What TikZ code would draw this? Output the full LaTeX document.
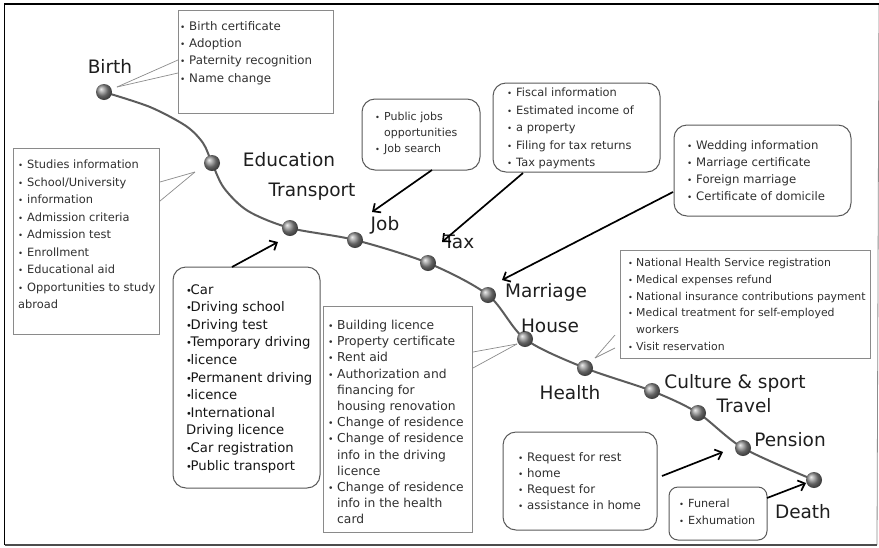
\documentclass[tikz,border=0pt]{standalone}
\usepackage{fontspec}
\setmainfont{DejaVu Sans}
\usepackage{graphicx}
\usetikzlibrary{fit,arrows.meta}

\definecolor{listink}{HTML}{303030}
\definecolor{stageink}{HTML}{1E1E1E}
\definecolor{rectedge}{HTML}{8A8A8A}
\definecolor{roundedge}{HTML}{5A5A5A}
\definecolor{lifecol}{HTML}{5C5C5C}

% font size helper: size / baseline skip (1pt = 1px here)
\newcommand{\fsz}[2]{\fontsize{#1}{#2}\selectfont}
% bullet with fixed width, and matching indent for wrapped lines
\newcommand{\bu}{\makebox[9pt][l]{\scalebox{0.75}{•}}}
\newcommand{\tb}{\makebox[4.5pt][l]{\scalebox{0.75}{•}}}
\newcommand{\ind}{\hspace*{9pt}}
\newcommand{\hb}{\makebox[8pt][l]{\scalebox{0.75}{•}}}

\tikzset{
  rectbox/.style={draw=rectedge, line width=0.9pt, inner sep=0pt},
  roundbox/.style={draw=roundedge, line width=1pt, rounded corners=13pt, inner sep=0pt},
  listtxt/.style={anchor=north west, inner sep=0pt, align=left, text=listink},
  stage/.style={font=\fsz{18.5}{20}, text=stageink, inner sep=0pt},
  ball/.style={circle, minimum size=16pt, inner sep=0pt, shading=ball, ball color=black!45},
  lifeline/.style={draw=lifecol, line width=2pt, line cap=round},
  spoke/.style={draw=black!45, line width=0.7pt},
  pointer/.style={draw=black, line width=1.7pt, -{Straight Barb[length=6pt,width=11pt,line width=1.7pt]}}
}

\begin{document}
\begin{tikzpicture}[x=1pt, y=-1pt]
\useasboundingbox (0,0) rectangle (879,547);
\fill[white] (0,0) rectangle (879,547);

% outer frame
\coordinate (fr-nw) at (4.5,4);
\coordinate (fr-ne) at (879,4);
\coordinate (fr-sw) at (4.5,545);
\coordinate (fr-se) at (877,545);
\draw[black!45, line width=0.8pt] (fr-ne) -- (fr-se);
\draw[black!70, line width=1.6pt] (fr-sw) -- (fr-se);
\draw[black, line width=1.8pt] (fr-sw) -- (fr-nw) -- (fr-ne);

% stations along the life line
\coordinate (p-birth) at (104,92);
\coordinate (p-edu) at (212,163);
\coordinate (p-trans) at (290,228);
\coordinate (p-job) at (355,240);
\coordinate (p-tax) at (428,263);
\coordinate (p-marr) at (488,295);
\coordinate (p-house) at (525,339);
\coordinate (p-health) at (585,368);
\coordinate (p-cult) at (652,391);
\coordinate (p-travel) at (698,413);
\coordinate (p-pension) at (743,448);
\coordinate (p-death) at (814,480);

\draw[lifeline] plot[smooth, tension=0.5] coordinates {
  (p-birth) (150,107) (186,126) (203,143) (p-edu) (224,188) (248,211) (p-trans) (p-job) (p-tax)
  (p-marr) (p-house) (p-health) (p-cult) (p-travel) (p-pension) (p-death)};

\foreach \s in {birth,edu,trans,job,tax,marr,house,health,cult,travel,pension,death}
  \node[ball] (b-\s) at (p-\s) {};

% stage labels
\node[stage] (l-birth) at (110,66) {Birth};
\node[stage] (l-edu) at (289,160) {Education};
\node[stage] (l-trans) at (312,192) {Transport};
\node[stage] (l-job) at (385,225) {Job};
\node[stage] (l-tax) at (459,242) {Tax};
\node[stage] (l-marr) at (546,292) {Marriage};
\node[stage] (l-house) at (550,326) {House};
\node[stage] (l-health) at (570,393) {Health};
\node[stage] (l-cult) at (735,383) {Culture \& sport};
\node[stage] (l-travel) at (744,406) {Travel};
\node[stage] (l-pension) at (790,440) {Pension};
\node[stage] (l-death) at (803,512) {Death};

% Birth
\node[rectbox, fit={(178,10) (333,113)}] (box-birth) {};
\node[listtxt, font=\fsz{11.8}{17.4}] (t-birth) at (180,21) {%
\bu Birth certificate\\ \bu Adoption\\ \bu Paternity recognition\\ \bu Name change};
\coordinate (hub-birth) at (117,87);
\coordinate (e-birth1) at (178,60);
\coordinate (e-birth2) at (178,73);
\draw[spoke] (hub-birth) -- (e-birth1);
\draw[spoke] (hub-birth) -- (e-birth2);

% Education
\node[rectbox, fit={(13,148) (159,334)}] (box-edu) {};
\node[listtxt, font=\fsz{11.4}{17.5}] (t-edu) at (18,160) {%
\bu Studies information\\ \bu School/University\\ \bu information\\
\bu Admission criteria\\ \bu Admission test\\ \bu Enrollment\\
\bu Educational aid\\ \bu Opportunities to study\\ abroad};
\coordinate (hub-edu) at (195,172);
\coordinate (e-edu1) at (160,182);
\coordinate (e-edu2) at (160,201);
\draw[spoke] (hub-edu) -- (e-edu1);
\draw[spoke] (hub-edu) -- (e-edu2);

% Transport
\node[roundbox, fit={(173,267) (320,488)}] (box-trans) {};
\node[listtxt, font=\fsz{13.2}{17.6}, text=black!92] (t-trans) at (186,284) {%
\tb Car\\ \tb Driving school\\ \tb Driving test\\ \tb Temporary driving\\
\tb licence\\ \tb Permanent driving\\ \tb licence\\ \tb International\\
Driving licence\\ \tb Car registration\\ \tb Public transport};
\coordinate (a-trans-s) at (232,267);
\coordinate (a-trans-e) at (278,242);
\draw[pointer] (a-trans-s) -- (a-trans-e);

% Job
\node[roundbox, fit={(362,99) (480,170)}] (box-job) {};
\node[listtxt, font=\fsz{11}{16}] (t-job) at (375,112) {%
\bu Public jobs\\ \ind opportunities\\ \bu Job search};
\coordinate (a-job-s) at (432,170);
\coordinate (a-job-e) at (372,212);
\draw[pointer] (a-job-s) -- (a-job-e);

% Tax
\node[roundbox, fit={(493,83) (660,172)}] (box-tax) {};
\node[listtxt, font=\fsz{11.4}{17.5}] (t-tax) at (507,88) {%
\bu Fiscal information\\ \bu Estimated income of\\ \bu a property\\
\bu Filing for tax returns\\ \bu Tax payments};
\coordinate (a-tax-s) at (523,173);
\coordinate (a-tax-e) at (442,242);
\draw[pointer] (a-tax-s) -- (a-tax-e);

% Marriage
\node[roundbox, fit={(674,125) (851,216)}] (box-marr) {};
\node[listtxt, font=\fsz{11.7}{17.3}] (t-marr) at (687,140) {%
\bu Wedding information\\ \bu Marriage certificate\\ \bu Foreign marriage\\
\bu Certificate of domicile};
\coordinate (a-marr-s) at (673,192);
\coordinate (a-marr-e) at (502,280);
\draw[pointer] (a-marr-s) -- (a-marr-e);

% Health
\node[rectbox, fit={(620,250) (870,358)}] (box-health) {};
\node[listtxt, font=\fsz{10.9}{16.8}] (t-health) at (628,258) {%
\hb National Health Service registration\\
\hb Medical expenses refund\\
\hb National insurance contributions payment\\
\hb Medical treatment for self-employed\\
\hspace*{8pt}workers\\
\hb Visit reservation};
\coordinate (hub-health) at (595,358);
\coordinate (e-health1) at (615,335);
\coordinate (e-health2) at (615,348);
\draw[spoke] (hub-health) -- (e-health1);
\draw[spoke] (hub-health) -- (e-health2);

% House
\node[rectbox, fit={(323,306) (472,532)}] (box-house) {};
\node[listtxt, font=\fsz{12.3}{16.2}] (t-house) at (328,320) {%
\bu Building licence\\ \bu Property certificate\\ \bu Rent aid\\
\bu Authorization and\\ \ind financing for\\ \ind housing renovation\\
\bu Change of residence\\ \bu Change of residence\\ \ind info in the driving\\
\ind licence\\ \bu Change of residence\\ \ind info in the health\\ \ind card};
\coordinate (hub-house) at (517,344);
\coordinate (e-house1) at (473,352);
\coordinate (e-house2) at (473,368);
\draw[spoke] (hub-house) -- (e-house1);
\draw[spoke] (hub-house) -- (e-house2);

% Pension
\node[roundbox, fit={(503,432) (657,530)}] (box-pension) {};
\node[listtxt, font=\fsz{11.8}{16}] (t-pension) at (518,452) {%
\bu Request for rest\\ \bu home\\ \bu Request for\\ \bu assistance in home};
\coordinate (a-pen-s) at (662,476);
\coordinate (a-pen-e) at (723,452);
\draw[pointer] (a-pen-s) -- (a-pen-e);

% Death
\node[roundbox, rounded corners=9pt, fit={(669,487) (767,540)}] (box-death) {};
\node[listtxt, font=\fsz{11.2}{17}] (t-death) at (679,499) {%
\bu Funeral\\ \bu Exhumation};
\coordinate (a-death-s) at (767,498);
\coordinate (a-death-e) at (806,483);
\draw[pointer] (a-death-s) -- (a-death-e);

\end{tikzpicture}
\end{document}
